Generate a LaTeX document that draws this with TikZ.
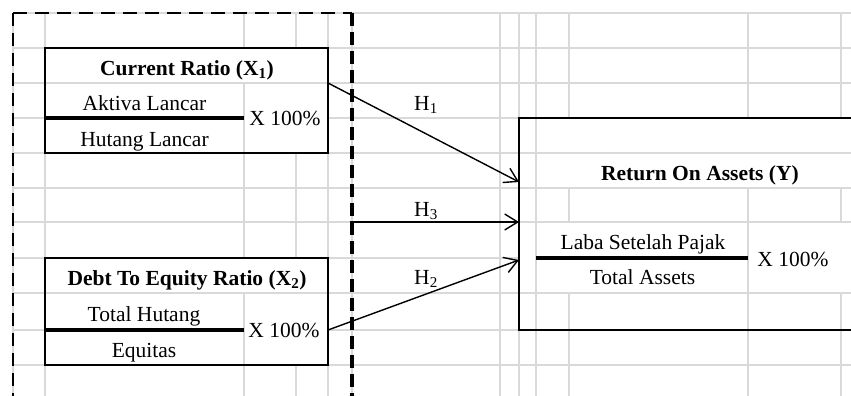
\documentclass[tikz,border=0pt]{standalone}
\usepackage{fontspec}
\setmainfont{Liberation Serif}
\usetikzlibrary{arrows.meta}
\definecolor{gridgray}{RGB}{217,217,217}
\begin{document}
\begin{tikzpicture}[x=1pt,y=-1pt,
  grid/.style={draw=gridgray,line width=1.1pt},
  mask/.style={fill=white},
  box/.style={draw=black,line width=2pt,inner sep=0pt,outer sep=0pt},
  frac/.style={line width=3.2pt},
  lbl/.style={font=\fontsize{21.5}{24}\selectfont,anchor=base,inner sep=0pt},
  ttl/.style={lbl,font=\fontsize{21.5}{24}\selectfont\bfseries},
  arr/.style={line width=1.4pt,-{Straight Barb[length=13pt,width=16pt]}},
  ]
\useasboundingbox (0,0) rectangle (851,396);
\fill[white] (0,0) rectangle (851,396);
% spreadsheet grid
\foreach \yy in {13,48,83,118,153,188,222,258,293,330,365}
  \draw[grid] (13,\yy) -- (851,\yy);
\foreach \xx in {13,45,244,296,328,352,500,519,536,569,748,841}
  \draw[grid] (\xx,13) -- (\xx,396);
% masks for merged cells
\fill[mask] (45,48) rectangle (328,153);
\fill[mask] (45,258) rectangle (328,365);
\fill[mask] (519,118) rectangle (851,330);
\draw[grid] (45,83) -- (328,83);
\draw[grid] (244,83) -- (244,153);
\draw[grid] (45,293) -- (328,293);
\draw[grid] (244,293) -- (244,365);
\draw[grid] (536,118) -- (536,330);
\foreach \yy in {153,188,222,293}
  \draw[grid] (519,\yy) -- (851,\yy);
\foreach \xx in {569,748,841} {
  \draw[grid] (\xx,188) -- (\xx,222);
  \draw[grid] (\xx,293) -- (\xx,330);
}
\draw[grid] (748,222) -- (748,293);
% dashed group frame
\draw[line width=2.6pt,dash pattern=on 14pt off 8pt] (13,13) -- (352,13);
\draw[line width=1.6pt,dash pattern=on 13pt off 7pt] (13,13) -- (13,396);
\draw[line width=3.8pt,dash pattern=on 13pt off 6pt] (352,13) -- (352,396);
\coordinate (h3s) at (350,222);
% boxes
\node[box,minimum width=283pt,minimum height=105pt] (x1) at (186.5,100.5) {};
\node[box,minimum width=283pt,minimum height=107pt] (x2) at (186.5,311.5) {};
\node[inner sep=0pt,outer sep=0pt,minimum width=332pt,minimum height=212pt] (yb) at (685,224) {};
\draw[line width=2pt] (yb.north east) -- (yb.north west) -- (yb.south west) -- (yb.south east);
% fraction bars
\draw[frac] (45,118) -- (244,118);
\draw[frac] (45,330) -- (244,330);
\draw[frac] (536,258) -- (748,258);
% texts X1
\node[ttl] (t1) at (187,75) {Current Ratio (X\textsubscript{1})};
\node[lbl] (n1) at (144.5,110) {Aktiva Lancar};
\node[lbl] (d1) at (144.5,146) {Hutang Lancar};
\node[lbl] (p1) at (285,125) {X 100\%};
% texts X2
\node[ttl] (t2) at (187,285) {Debt To Equity Ratio (X\textsubscript{2})};
\node[lbl] (n2) at (144,321) {Total Hutang};
\node[lbl] (d2) at (144,357) {Equitas};
\node[lbl] (p2) at (284,337) {X 100\%};
% texts Y
\node[ttl] (ty) at (700,180) {Return On Assets (Y)};
\node[lbl] (ny) at (643,249) {Laba Setelah Pajak};
\node[lbl] (dy) at (642.5,284) {Total Assets};
\node[lbl] (py) at (793,266) {X 100\%};
% arrows
\draw[arr] ([yshift=17.5pt]x1.east) -- ([yshift=42pt]yb.west);
\draw[arr] (h3s) -- ([yshift=2pt]yb.west);
\draw[arr] ([yshift=-18.5pt]x2.east) -- ([yshift=-36pt]yb.west);
\node[lbl] (h1) at (426,110) {H\textsubscript{1}};
\node[lbl] (h3) at (426,216) {H\textsubscript{3}};
\node[lbl] (h2) at (426,284) {H\textsubscript{2}};
\end{tikzpicture}
\end{document}
